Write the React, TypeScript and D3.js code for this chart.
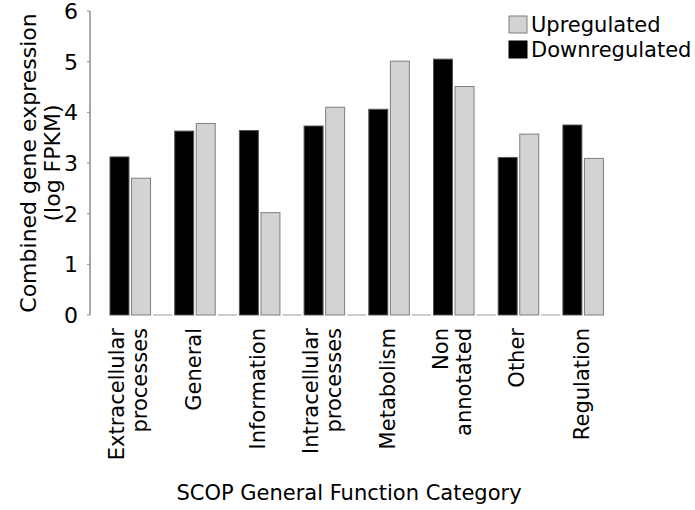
import { useRef, useEffect } from 'react';
import * as d3 from 'd3';

const categories = [
  "Extracellular processes",
  "General",
  "Information",
  "Intracellular processes",
  "Metabolism",
  "Non annotated",
  "Other",
  "Regulation",
];
// label lines for the rotated x tick labels
const categoryLines = [
  ["Extracellular", "processes"],
  ["General"],
  ["Information"],
  ["Intracellular", "processes"],
  ["Metabolism"],
  ["Non", "annotated"],
  ["Other"],
  ["Regulation"],
];
const downregulated = [3.12, 3.63, 3.64, 3.73, 4.06, 5.05, 3.11, 3.75];
const upregulated = [2.70, 3.78, 2.02, 4.10, 5.01, 4.51, 3.57, 3.09];
// empty spacer slot after each group except the last
const spacer = [0, 0, 0, 0, 0, 0, 0, null];
const yTicks = [0, 1, 2, 3, 4, 5, 6];

const FONT = "DejaVu Sans, sans-serif";

function App() {
  const svgRef = useRef(null);

  useEffect(() => {
    const svg = d3.select(svgRef.current);
    svg.selectAll("*").remove();

    const W = 695, H = 510;
    svg.attr("width", W).attr("height", H);

    const y = d3.scaleLinear().domain([0, 6]).range([315, 11]);

    const x = d3.scaleBand()
      .domain(categories)
      .range([108.7, 108.7 + 8 * 64.7])
      .padding(0);

    const slots = ["down", "up", "gap"];
    const xi = d3.scaleBand()
      .domain(slots)
      .range([0, x.bandwidth()])
      .paddingInner(0.12)
      .paddingOuter(0.06);

    // y axis
    const axis = svg.append("g").attr("transform", "translate(90,0)");
    axis.append("line")
      .attr("x1", 0).attr("x2", 0)
      .attr("y1", y(6)).attr("y2", y(0))
      .attr("stroke", "#8c8c8c").attr("stroke-width", 1.5);
    axis.selectAll("line.tick")
      .data(yTicks).enter().append("line")
      .attr("class", "tick")
      .attr("x1", -3).attr("x2", 0)
      .attr("y1", d => y(d)).attr("y2", d => y(d))
      .attr("stroke", "#8c8c8c").attr("stroke-width", 1);
    axis.selectAll("text")
      .data(yTicks).enter().append("text")
      .attr("x", -12).attr("y", d => y(d))
      .attr("dy", "0.36em")
      .attr("text-anchor", "end")
      .style("font-family", FONT).style("font-size", "22px")
      .text(d => d);

    // y label
    const yl = svg.append("text")
      .attr("transform", `translate(28,${(y(0) + y(6)) / 2}) rotate(-90)`)
      .attr("text-anchor", "middle")
      .style("font-family", FONT).style("font-size", "22px");
    yl.append("tspan").attr("x", 0).attr("dy", "0.35em").text("Combined gene expression");
    yl.append("tspan").attr("x", 0).attr("dy", "1.1em").text("(log FPKM)");

    // bars
    const g = svg.append("g");
    categories.forEach((c, i) => {
      const x0 = x(c);
      g.append("rect")
        .attr("x", x0 + xi("down")).attr("width", xi.bandwidth())
        .attr("y", y(downregulated[i])).attr("height", y(0) - y(downregulated[i]))
        .attr("fill", "#000").attr("stroke", "#555").attr("stroke-width", 1);
      g.append("rect")
        .attr("x", x0 + xi("up")).attr("width", xi.bandwidth())
        .attr("y", y(upregulated[i])).attr("height", y(0) - y(upregulated[i]))
        .attr("fill", "#d3d3d3").attr("stroke", "#7f7f7f").attr("stroke-width", 1);
      if (spacer[i] !== null) {
        g.append("line")
          .attr("x1", x0 + xi("gap")).attr("x2", x0 + xi("gap") + xi.bandwidth())
          .attr("y1", y(spacer[i])).attr("y2", y(spacer[i]))
          .attr("stroke", "#9a9a9a").attr("stroke-width", 1);
      }
    });

    // x tick labels (rotated)
    categories.forEach((c, i) => {
      const cx = x(c) + (xi("down") + xi("up") + xi.bandwidth()) / 2 - 2;
      const lines = categoryLines[i];
      const t = svg.append("text")
        .attr("transform", `translate(${cx},328) rotate(-90)`)
        .attr("text-anchor", "end")
        .style("font-family", FONT).style("font-size", "21px");
      lines.forEach((ln, j) => {
        t.append("tspan")
          .attr("x", 0)
          .attr("y", (j - (lines.length - 1) / 2) * 23)
          .attr("dy", "0.36em")
          .text(ln);
      });
    });

    // x title
    svg.append("text")
      .attr("x", 349).attr("y", 500)
      .attr("text-anchor", "middle")
      .style("font-family", FONT).style("font-size", "21px")
      .text("SCOP General Function Category");

    // legend
    const legend = [
      { label: "Upregulated", fill: "#d3d3d3", stroke: "#7f7f7f" },
      { label: "Downregulated", fill: "#000", stroke: "#000" },
    ];
    const lg = svg.append("g").attr("transform", "translate(509,16)");
    legend.forEach((d, i) => {
      lg.append("rect")
        .attr("x", 0).attr("y", i * 25)
        .attr("width", 18).attr("height", 17)
        .attr("fill", d.fill).attr("stroke", d.stroke);
      lg.append("text")
        .attr("x", 22).attr("y", i * 25 + 16)
        .style("font-family", FONT).style("font-size", "21px")
        .text(d.label);
    });
  }, []);

  return <svg ref={svgRef} style={{ position: "absolute", left: 0, top: 0 }}></svg>;
}

export default App;
